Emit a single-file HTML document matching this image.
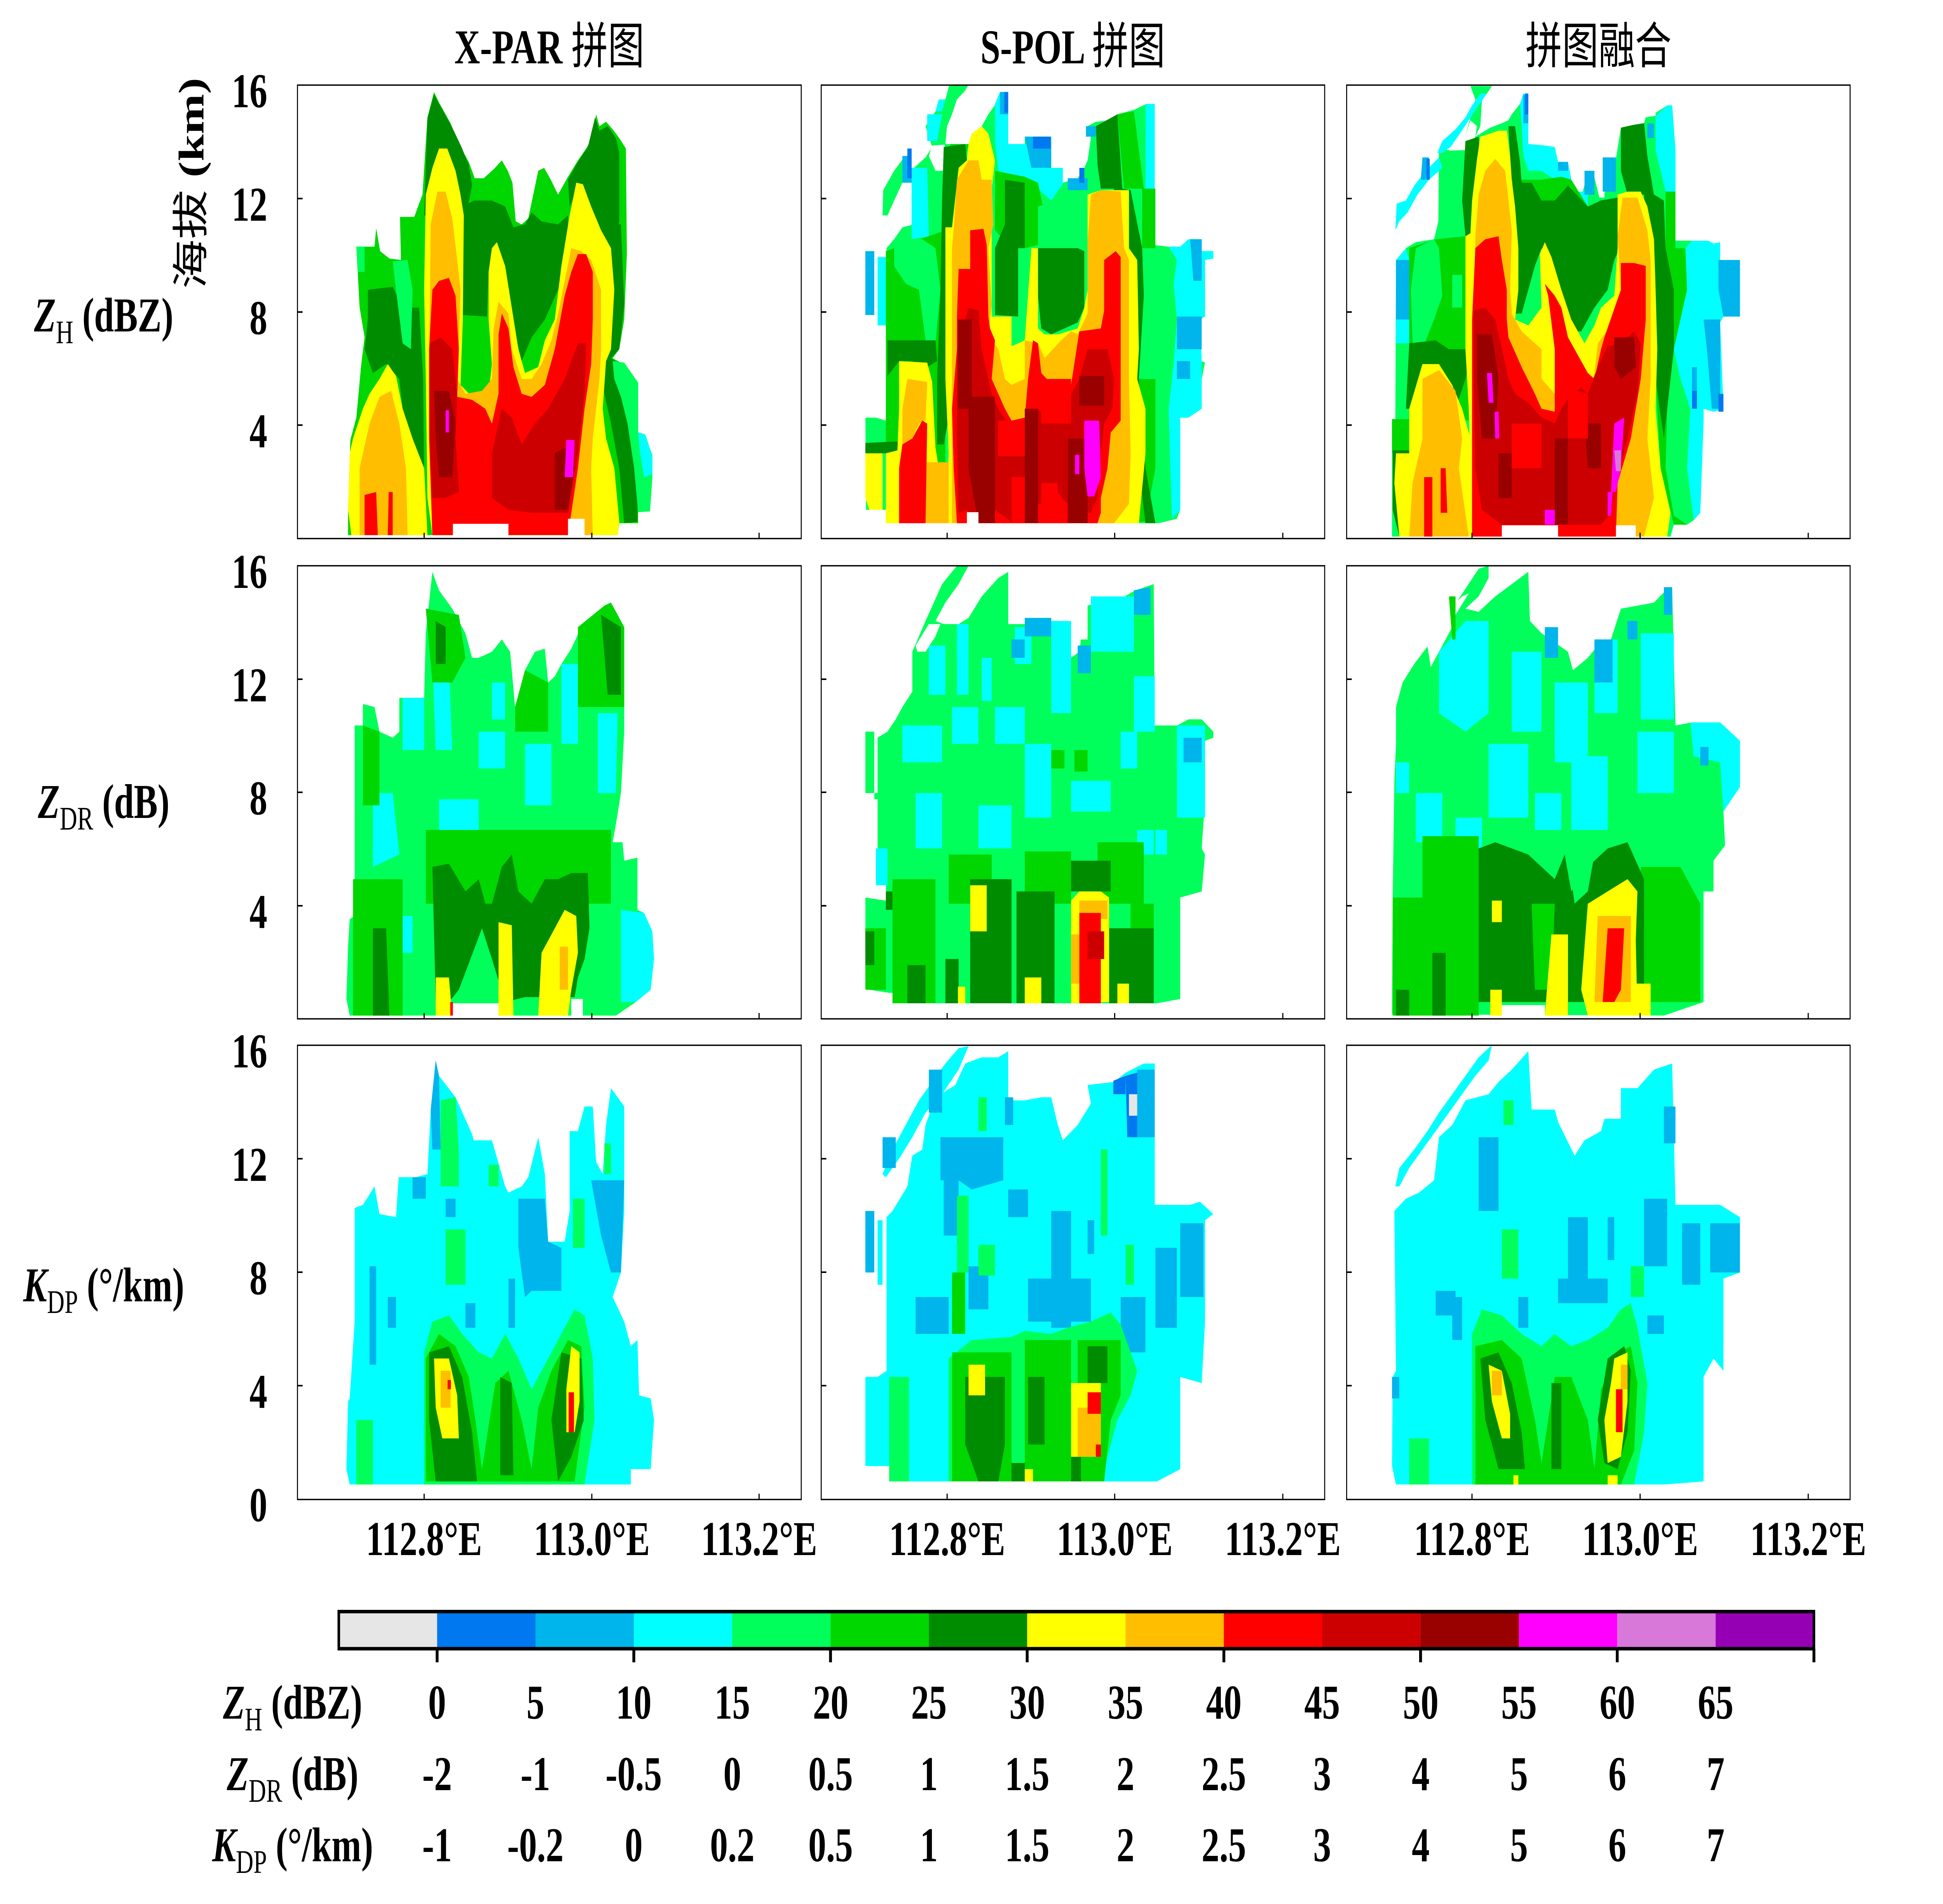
<!DOCTYPE html>
<html>
<head>
<meta charset="utf-8">
<style>
html,body{margin:0;padding:0;background:#fff;width:100%;height:100%;overflow:hidden;}
svg.root{display:block;width:100vw;height:100vh;}
.g0{fill:#e6e6e6}.b1{fill:#0078f0}.b2{fill:#00b4ec}.cy{fill:#00ffff}.sg{fill:#00ff5a}
.gr{fill:#00d600}.dg{fill:#008c00}.ye{fill:#ffff00}.or{fill:#ffbe00}.re{fill:#ff0000}
.r2{fill:#cc0000}.r3{fill:#990000}.mg{fill:#ff00ff}.oc{fill:#d878d8}.pu{fill:#9600b4}.wh{fill:#ffffff}
text{font-family:"Liberation Serif","Noto Serif CJK SC",serif;font-weight:bold;fill:#000;}
.cjk{font-family:"Liberation Sans","Noto Sans CJK SC",sans-serif;font-weight:normal;}
</style>
</head>
<body>
<svg class="root" xmlns="http://www.w3.org/2000/svg" width="100%" height="100%" viewBox="0 0 6819 4900" preserveAspectRatio="none">
<rect x="0" y="0" width="6819" height="4900" fill="#fff"/>

<!-- ================= ROW 1 COL 1 (ZH X-PAR) ================= -->
<svg x="1030" y="210" width="1820" height="1200" viewBox="0 0 1568 1568" preserveAspectRatio="none">
<polygon class="gr" points="165,1525 165,1440 172,1205 190,1130 205,950 215,860 200,760 190,555 245,555 250,493 262,570 290,595 325,600 322,455 365,455 390,380 405,120 425,35 440,70 475,140 500,210 530,270 548,325 575,325 605,295 630,265 648,300 662,340 672,470 690,480 710,460 740,300 758,290 778,330 800,380 830,320 860,265 885,225 905,185 915,110 925,150 945,135 965,160 985,190 1005,225 1008,580 1000,800 985,900 965,930 990,945 995,1010 1042,1012 1042,1180 1060,1185 1085,1255 1085,1330 1078,1445 1042,1448 1042,1485 985,1485 980,1525"/>
<polygon class="dg" points="395,450 405,125 425,42 445,85 478,150 508,220 530,280 540,350 522,450"/>
<polygon class="dg" points="512,420 545,400 600,400 640,420 665,490 700,480 720,440 750,470 800,480 830,450 830,560 800,700 760,800 720,860 690,940 660,800 640,720 620,650 600,560 590,640 585,790 512,785"/>
<polygon class="dg" points="830,330 860,270 890,220 912,120 925,165 950,150 975,190 985,240 985,470 965,560 940,520 900,440 860,360 835,420"/>
<polygon class="dg" points="935,480 990,480 1000,750 985,900 960,930 985,950 990,1010 1000,1100 1040,1200 1040,1480 1000,1485 985,1300 960,1150 930,1000 930,700"/>
<polygon class="dg" points="225,700 300,690 330,760 380,760 392,1000 395,1330 370,1320 340,1200 320,1000 280,950 240,980 215,900 225,800"/>
<polygon class="sg" points="965,940 1000,945 1042,1012 1042,1180 1065,1190 1085,1260 1085,1330 1078,1445 1042,1448 1030,1300 1010,1150 990,1060 970,1000"/>
<polygon class="sg" points="300,605 345,600 360,700 355,900 330,880 310,700"/>
<polygon class="sg" points="190,555 215,555 215,640 195,640"/>
<polygon class="cy" points="1042,1180 1062,1186 1085,1258 1085,1320 1060,1330 1048,1250"/>
<polygon class="ye" points="400,380 420,290 440,225 465,225 490,300 505,380 515,450 512,800 505,1020 540,1060 590,1050 600,950 590,800 590,640 600,560 615,540 640,620 660,760 680,900 700,980 740,960 760,870 790,800 810,620 835,450 855,340 875,345 900,420 930,500 960,560 970,700 960,900 945,940 935,1100 945,1200 970,1300 985,1480 980,1525 420,1525 405,1400 400,1000 395,700"/>
<polygon class="ye" points="170,1250 180,1200 210,1100 230,1050 260,1000 285,950 310,990 330,1100 360,1200 395,1300 405,1525 175,1525 165,1440"/>
<polygon class="or" points="415,480 435,370 460,370 480,460 495,600 505,700 500,900 495,1000 520,1050 570,1040 600,1000 605,830 620,740 650,780 660,900 690,1000 720,1000 750,950 780,870 800,780 840,560 870,570 900,600 930,700 930,900 925,1000 905,1200 900,1300 905,1525 420,1525 410,1000"/>
<polygon class="or" points="200,1300 230,1150 260,1060 295,1040 320,1150 340,1300 345,1525 200,1525"/>
<polygon class="re" points="410,900 420,700 440,670 470,660 490,720 500,900 495,1060 540,1070 580,1100 600,1150 620,1050 620,850 630,780 650,830 665,960 690,1050 720,1060 760,1020 790,900 820,720 840,640 860,580 885,580 905,640 905,800 900,950 880,1100 860,1300 830,1525 420,1525 410,1200"/>
<polygon class="re" points="215,1390 250,1380 255,1525 215,1525"/>
<polygon class="re" points="288,1380 300,1380 300,1525 285,1525"/>
<polygon class="r2" points="412,880 445,860 480,900 495,1050 490,1200 500,1380 460,1400 420,1400 412,1200"/>
<polygon class="r2" points="600,1250 630,1100 660,1130 690,1220 730,1150 770,1100 820,1000 860,880 885,880 880,1050 860,1250 840,1380 830,1450 720,1450 650,1440 600,1400"/>
<polygon class="r3" points="425,1040 470,1040 490,1150 480,1330 440,1330 430,1200"/>
<polygon class="r3" points="790,1250 840,1220 850,1300 830,1440 790,1440"/>
<polygon class="mg" points="825,1205 850,1205 845,1330 820,1330"/>
<polygon class="mg" points="460,1105 470,1105 470,1180 460,1180"/>
<polygon class="wh" points="482,1487 650,1487 650,1530 482,1530"/>
<polygon class="wh" points="830,1470 880,1470 880,1530 830,1530"/>
</svg>

<!-- ================= ROW 1 COL 2 (ZH S-POL) ================= -->
<svg x="2900" y="210" width="1820" height="1200" viewBox="0 0 1568 1568" preserveAspectRatio="none">
<polygon class="sg" points="182,560 205,530 230,490 265,480 265,290 300,255 320,220 300,150 330,100 360,60 372,10 430,10 420,30 395,60 380,110 365,150 360,210 430,210 440,175 470,150 490,110 515,70 525,35 550,35 550,210 600,210 600,185 680,185 680,290 715,290 715,340 760,325 780,290 790,265 800,190 790,150 815,135 865,130 880,110 930,95 968,75 993,75 993,550 1035,555 1070,555 1095,530 1135,530 1135,570 1170,570 1170,595 1145,600 1145,790 1130,800 1135,940 1145,945 1135,1000 1135,1100 1095,1130 1070,1130 1070,1440 1060,1470 1005,1485 180,1485 180,1440 120,1440 118,1130 150,1130 180,1140 182,1000"/>
<polygon class="sg" points="170,450 172,365 205,300 235,255 250,290 230,340 205,400 185,450"/>
<polygon class="wh" points="320,215 358,212 355,300 330,300 310,250"/>
<polygon class="b2" points="118,570 145,570 145,785 118,785"/>
<polygon class="cy" points="155,590 182,590 182,820 155,820"/>
<polygon class="cy" points="510,75 525,35 550,35 550,210 605,210 605,185 680,185 680,290 715,290 715,345 680,400 640,360 600,320 550,310 520,300 510,200"/>
<polygon class="cy" points="965,75 993,75 993,360 965,360"/>
<polygon class="cy" points="1035,555 1070,555 1095,530 1135,530 1135,570 1170,570 1170,595 1145,600 1145,790 1130,800 1135,940 1135,1100 1095,1130 1070,1130 1070,1440 1045,1470 1040,1300 1035,1100 1050,950 1060,800 1050,680 1060,600"/>
<polygon class="cy" points="258,290 305,290 310,520 258,530"/>
<polygon class="cy" points="305,110 350,110 335,200 305,200"/>
<polygon class="cy" points="340,60 360,60 350,100 330,100"/>
<polygon class="b2" points="1060,790 1135,790 1135,900 1060,900"/>
<polygon class="b2" points="1100,530 1135,530 1135,670 1110,670"/>
<polygon class="b2" points="600,185 680,185 680,290 620,290"/>
<polygon class="b2" points="730,325 790,325 790,365 730,365"/>
<polygon class="b2" points="230,250 258,250 258,340 230,340"/>
<polygon class="b2" points="525,35 550,35 550,110 525,110"/>
<polygon class="b2" points="785,150 815,150 815,185 785,185"/>
<polygon class="b2" points="1060,940 1100,940 1100,1000 1060,1000"/>
<polygon class="b1" points="625,185 678,185 678,225 625,225"/>
<polygon class="b1" points="765,290 780,290 780,340 765,340"/>
<polygon class="b1" points="538,35 550,35 550,105 538,105"/>
<polygon class="b1" points="245,225 258,225 258,325 245,325"/>
<polygon class="gr" points="180,570 360,500 360,1450 180,1450"/>
<polygon class="gr" points="510,300 600,320 640,340 660,450 640,550 600,560 560,560 510,500"/>
<polygon class="gr" points="955,360 995,360 995,560 955,560"/>
<polygon class="gr" points="375,210 430,210 420,260 400,290 380,330 365,300"/>
<polygon class="gr" points="880,110 930,100 960,360 900,360"/>
<polygon class="gr" points="930,1000 995,1000 995,1300 965,1480 945,1480"/>
<polygon class="sg" points="205,530 290,530 330,560 345,700 330,880 300,870 280,700 240,680 205,620"/>
<polygon class="sg" points="640,420 700,400 760,400 760,550 640,550"/>
<polygon class="dg" points="185,870 330,870 335,940 305,960 260,940 220,940 185,990"/>
<polygon class="dg" points="355,220 420,210 425,265 400,290 395,490 380,700 375,1000 370,1130 355,1220 335,1220 335,1000 345,700 350,400"/>
<polygon class="dg" points="540,330 600,340 600,560 580,560 580,790 510,785 510,560 540,480"/>
<polygon class="dg" points="640,560 700,560 760,560 780,570 780,760 760,810 720,830 680,850 650,830 640,720"/>
<polygon class="dg" points="815,150 880,110 895,360 920,365 955,560 960,720 945,1000 965,1300 995,1485 965,1485 935,1200 915,1000 900,720 870,360 830,360 820,280"/>
<polygon class="dg" points="118,1215 215,1210 220,1250 118,1250"/>
<polygon class="ye" points="360,490 380,490 400,290 425,265 430,210 440,175 470,150 490,175 510,265 500,360 500,790 560,790 560,890 600,870 620,560 640,560 640,830 660,850 700,850 760,830 780,760 790,700 790,380 830,365 915,365 915,560 940,600 945,900 940,1000 965,1100 965,1250 945,1485 360,1485 370,1250 360,1000 360,790"/>
<polygon class="ye" points="220,940 305,945 320,1010 330,1230 340,1300 355,1440 360,1485 180,1485 180,1250 215,1240 220,1100"/>
<polygon class="ye" points="118,1250 170,1250 170,1440 130,1440 118,1400"/>
<polygon class="or" points="380,560 385,500 395,330 430,265 460,265 470,330 500,330 505,480 490,560 500,750 490,850 520,900 540,1000 560,1020 600,1000 600,870 640,880 660,930 710,870 740,840 760,850 790,780 790,620 790,540 800,380 830,365 890,370 900,560 915,600 915,1000 920,1250 915,1420 870,1485 380,1485"/>
<polygon class="or" points="245,1000 305,1010 300,1140 280,1150 260,1200 230,1220 230,1100"/>
<polygon class="or" points="295,1280 370,1280 370,1485 295,1485"/>
<polygon class="re" points="395,790 400,630 435,630 435,500 475,495 485,550 490,790 495,830 510,870 500,1000 540,1100 560,1140 600,1130 610,1000 625,870 640,880 650,980 700,1040 740,1020 765,840 830,830 840,770 840,600 875,570 890,590 890,1140 860,1180 850,1300 830,1400 830,1450 820,1485 395,1485 385,1300 380,1100 395,900"/>
<polygon class="re" points="230,1220 260,1200 290,1140 305,1150 300,1485 220,1485 220,1300"/>
<polygon class="r2" points="395,900 430,760 460,770 470,900 500,1050 520,1100 550,1150 580,1160 600,1150 625,1100 640,1100 660,1130 700,1150 740,1050 765,1000 790,900 850,900 870,1000 865,1100 840,1150 830,1250 820,1400 800,1450 760,1450 720,1410 700,1380 680,1420 640,1420 600,1485 560,1480 510,1440 460,1485 425,1440 400,1450 395,1200"/>
<polygon class="r3" points="398,800 440,800 440,1100 398,1100"/>
<polygon class="r3" points="430,1060 510,1060 510,1485 460,1485 430,1300"/>
<polygon class="r3" points="600,1100 640,1100 640,1485 600,1485"/>
<polygon class="r3" points="765,990 840,990 840,1090 765,1090"/>
<polygon class="r3" points="730,1200 790,1200 790,1485 730,1485"/>
<polygon class="re" points="520,1140 600,1140 600,1260 520,1260"/>
<polygon class="re" points="650,1000 740,1000 740,1150 650,1150"/>
<polygon class="re" points="650,1350 700,1350 700,1485 650,1485"/>
<polygon class="re" points="560,1330 600,1330 600,1485 560,1485"/>
<polygon class="mg" points="780,1140 825,1140 830,1330 810,1395 790,1395 780,1300"/>
<polygon class="mg" points="752,1255 765,1255 765,1320 752,1320"/>
<polygon class="wh" points="425,1448 460,1448 460,1490 425,1490"/>
</svg>

<!-- ================= ROW 1 COL 3 (ZH fusion) ================= -->
<svg x="4760" y="210" width="1820" height="1200" viewBox="0 0 1568 1568" preserveAspectRatio="none">
<polygon class="sg" points="108,1530 108,1135 118,1135 120,600 150,560 180,540 235,530 248,470 250,230 285,230 300,200 330,180 345,120 360,60 345,15 410,15 395,40 380,60 375,150 360,185 405,155 440,140 460,130 470,110 495,75 505,40 520,45 520,210 570,215 600,220 610,270 640,270 650,330 655,370 685,370 700,300 715,300 735,390 750,390 755,260 785,260 800,155 840,145 870,140 875,120 905,115 905,105 940,80 955,80 965,230 965,535 1015,535 1065,535 1080,545 1100,540 1100,600 1160,600 1160,790 1110,790 1100,810 1110,1100 1080,1110 1050,1100 1050,1140 1040,1450 1020,1475 1000,1490 960,1490 950,1530"/>
<polygon class="cy" points="118,500 122,410 150,400 175,350 210,300 250,255 260,290 220,330 185,380 155,440 130,470"/>
<polygon class="cy" points="245,240 260,200 300,160 330,120 350,80 375,40 395,40 370,80 340,130 310,180 285,220 260,240"/>
<polygon class="wh" points="160,540 165,470 200,420 240,380 245,460 235,530 180,540"/>
<polygon class="wh" points="280,232 300,200 330,180 345,130 365,150 360,185 340,230"/>
<polygon class="cy" points="495,75 505,40 520,45 520,210 570,215 600,220 610,270 640,270 650,330 600,330 560,300 520,300 505,250 500,150"/>
<polygon class="cy" points="905,115 940,80 955,80 965,230 965,370 935,370 905,230"/>
<polygon class="cy" points="995,560 1015,535 1065,535 1080,545 1100,540 1100,600 1160,600 1160,790 1110,790 1100,810 1110,1100 1080,1110 1050,1100 1050,1140 1040,1450 1020,1475 1000,1300 1010,1100 980,1000 960,900 950,800 980,700 990,600"/>
<polygon class="cy" points="120,600 150,560 160,600 160,880 120,880"/>
<polygon class="cy" points="650,370 700,370 700,420 650,420"/>
<polygon class="b2" points="1095,600 1160,600 1160,790 1110,790 1095,700"/>
<polygon class="b2" points="1050,800 1100,800 1100,1100 1075,1100 1060,900"/>
<polygon class="b2" points="745,255 785,255 785,370 745,370"/>
<polygon class="b2" points="610,270 640,270 640,300 610,300"/>
<polygon class="b2" points="690,300 720,300 720,380 690,380"/>
<polygon class="b2" points="880,140 900,140 900,190 880,190"/>
<polygon class="b2" points="505,45 520,45 520,140 505,140"/>
<polygon class="b2" points="120,600 160,600 160,800 120,800"/>
<polygon class="b2" points="200,255 220,255 210,330 195,330"/>
<polygon class="b2" points="1015,960 1030,960 1030,1060 1015,1060"/>
<polygon class="b1" points="1095,1050 1110,1050 1110,1110 1095,1110"/>
<polygon class="b1" points="1015,1040 1030,1040 1030,1100 1015,1100"/>
<polygon class="b1" points="510,40 520,40 520,110 510,110"/>
<polygon class="b1" points="212,260 222,260 222,330 212,330"/>
<polygon class="gr" points="160,560 240,530 330,520 340,1140 300,1130 250,1100 200,1070 160,1100"/>
<polygon class="gr" points="108,1135 160,1135 160,1250 108,1250"/>
<polygon class="gr" points="470,330 560,330 620,320 650,330 700,420 720,420 735,400 790,390 790,540 740,560 700,560 660,520 620,520 560,540 520,520 490,480"/>
<polygon class="gr" points="935,370 965,370 965,560 995,560 1000,700 960,900 940,1100 935,1300 960,1460 1000,1490 960,1490 920,1300 905,1000 930,800 935,600"/>
<polygon class="sg" points="180,560 235,530 250,560 260,720 235,800 200,900 170,880 165,700"/>
<polygon class="sg" points="290,650 320,650 320,760 290,760"/>
<polygon class="dg" points="330,200 370,185 375,280 355,380 350,480 345,520 330,520 320,400"/>
<polygon class="dg" points="460,150 480,150 495,270 500,340 480,360 470,330 465,250"/>
<polygon class="dg" points="470,340 530,340 560,400 600,400 640,350 700,420 740,400 790,390 800,400 800,550 780,600 760,700 720,760 680,840 640,840 620,760 600,700 580,640 560,560 540,620 520,700 500,780 480,780 470,600"/>
<polygon class="dg" points="800,155 840,145 870,140 880,250 900,380 930,400 935,560 960,700 960,900 940,1100 930,1200 905,1000 895,800 880,640 870,380 820,380 800,300"/>
<polygon class="dg" points="160,880 240,870 280,900 330,900 340,950 330,1000 300,1100 250,1000 210,960 165,1100 150,1100"/>
<polygon class="dg" points="110,1240 160,1240 160,1530 130,1530 110,1440"/>
<polygon class="ye" points="330,520 345,510 350,400 365,260 375,185 390,180 430,165 455,165 465,250 470,330 480,420 490,560 490,700 480,800 520,820 560,760 555,580 570,540 590,590 620,700 650,800 690,880 720,820 740,760 780,720 790,560 790,380 820,370 860,370 880,420 900,530 905,700 910,900 905,1100 920,1300 950,1450 940,1530 340,1530 345,1300 340,1100 330,900"/>
<polygon class="ye" points="160,1100 200,950 250,950 290,1020 320,1100 345,1200 345,1530 130,1530 115,1350 120,1250 160,1250"/>
<polygon class="or" points="360,520 370,380 390,300 420,260 450,300 460,400 470,500 465,700 470,780 500,840 540,880 560,900 560,1000 600,1050 620,940 640,900 680,980 700,1050 720,980 730,880 770,820 800,700 790,520 805,390 850,390 880,500 890,600 890,800 890,1000 880,1200 900,1400 870,1530 350,1530"/>
<polygon class="or" points="200,1000 250,970 300,1040 320,1200 310,1300 340,1530 160,1530 170,1350 200,1200"/>
<polygon class="re" points="360,560 390,530 430,520 440,600 455,700 455,800 460,860 500,960 540,1050 560,1100 600,1110 600,900 580,720 570,680 600,720 620,760 640,860 660,900 700,980 720,1000 740,900 750,860 800,700 800,610 840,610 875,620 875,800 860,1000 830,1200 790,1350 785,1530 350,1530 350,800"/>
<polygon class="re" points="205,1330 230,1330 230,1530 205,1530"/>
<polygon class="re" points="255,1300 270,1300 275,1450 255,1450"/>
<polygon class="r2" points="355,770 390,760 420,800 440,900 460,1000 480,1050 520,1080 560,1130 600,1150 620,1100 650,1050 680,1030 700,1050 730,960 760,890 800,880 840,840 860,880 850,1050 820,1200 790,1320 770,1450 740,1490 600,1490 440,1490 380,1440 360,1300 355,1000"/>
<polygon class="r3" points="365,850 410,850 430,1000 420,1200 380,1200 365,1000"/>
<polygon class="r3" points="780,860 840,860 845,960 800,1000 780,960"/>
<polygon class="r3" points="690,1150 740,1150 740,1300 700,1300"/>
<polygon class="r3" points="600,1200 640,1200 640,1490 600,1490"/>
<polygon class="r3" points="430,1250 470,1250 470,1400 430,1400"/>
<polygon class="re" points="470,1150 560,1150 560,1300 470,1300"/>
<polygon class="re" points="640,1030 700,1050 700,1200 640,1200"/>
<polygon class="mg" points="395,980 410,980 415,1080 400,1080"/>
<polygon class="mg" points="418,1110 430,1110 432,1200 420,1200"/>
<polygon class="mg" points="780,1150 810,1130 800,1300 785,1380 770,1380"/>
<polygon class="mg" points="760,1380 775,1380 770,1460 760,1460"/>
<polygon class="mg" points="570,1440 600,1440 600,1490 570,1490"/>
<polygon class="oc" points="780,1240 800,1240 800,1310 785,1310"/>
<polygon class="wh" points="440,1492 610,1492 610,1532 440,1532"/>
<polygon class="wh" points="785,1492 845,1492 845,1532 785,1532"/>
</svg>

<!-- ================= ROWS 2-3 COL 1 ================= -->
<svg x="1030" y="1440" width="1820" height="2480" viewBox="0 0 1568 1568" preserveAspectRatio="none">
<!-- ZDR -->
<polygon class="sg" points="160,715 165,630 170,585 185,580 185,270 210,270 210,235 245,240 260,280 300,290 320,280 320,225 395,225 400,120 420,20 440,50 480,80 520,120 540,160 560,160 600,150 630,130 655,150 670,240 700,180 730,150 760,145 770,200 790,190 810,170 840,145 870,110 900,95 920,90 940,75 960,70 1000,110 1000,280 990,380 975,430 965,460 995,460 1000,490 1040,485 1040,570 1060,575 1085,605 1090,650 1080,700 1035,720 975,742 170,742"/>
<polygon class="cy" points="420,160 470,170 480,310 430,310"/>
<polygon class="cy" points="330,225 395,225 395,310 330,310"/>
<polygon class="cy" points="440,390 560,390 560,470 440,470"/>
<polygon class="cy" points="700,300 780,300 780,400 700,400"/>
<polygon class="cy" points="330,580 360,580 360,640 330,640"/>
<polygon class="cy" points="990,570 1060,575 1085,605 1090,650 1080,700 1035,720 990,720"/>
<polygon class="cy" points="240,380 300,380 320,480 240,500"/>
<polygon class="cy" points="810,170 860,170 860,300 810,300"/>
<polygon class="cy" points="560,280 640,280 640,340 560,340"/>
<polygon class="cy" points="920,250 980,250 975,380 920,380"/>
<polygon class="cy" points="600,200 640,200 640,260 600,260"/>
<polygon class="gr" points="860,110 940,75 960,70 1000,110 1000,240 860,240"/>
<polygon class="gr" points="400,80 500,90 520,160 480,200 420,200"/>
<polygon class="gr" points="670,240 700,180 770,200 770,280 670,280"/>
<polygon class="gr" points="400,440 960,440 960,560 400,560"/>
<polygon class="gr" points="180,520 330,520 330,742 180,742"/>
<polygon class="gr" points="210,270 260,280 260,400 210,400"/>
<polygon class="dg" points="420,500 470,495 520,540 560,520 580,560 600,560 630,500 660,480 680,540 720,560 760,520 800,520 840,510 890,510 895,600 880,650 860,680 850,712 700,712 640,720 600,650 570,600 500,700 470,720 430,720"/>
<polygon class="dg" points="930,90 990,110 990,220 950,220"/>
<polygon class="dg" points="430,100 460,110 460,170 430,170"/>
<polygon class="dg" points="240,600 280,600 290,742 240,742"/>
<polygon class="ye" points="620,590 660,595 665,742 620,742"/>
<polygon class="ye" points="750,640 780,610 820,570 855,580 860,640 840,700 830,742 740,742"/>
<polygon class="ye" points="430,680 470,680 480,742 430,742"/>
<polygon class="or" points="805,630 830,630 830,700 805,700"/>
<polygon class="re" points="474,720 482,720 482,742 474,742"/>
<polygon class="wh" points="482,722 620,722 620,746 482,746"/>
<polygon class="wh" points="840,715 875,715 875,746 840,746"/>
<!-- KDP -->
<polygon class="cy" points="160,1480 165,1370 170,1365 185,1240 185,1055 210,1050 245,1020 260,1065 310,1070 318,1005 370,1005 405,1000 415,895 430,815 440,840 490,875 540,935 545,945 600,945 640,1020 650,1030 690,1020 710,1005 740,940 760,1000 770,1110 820,1110 835,1060 835,930 860,930 880,890 905,890 915,980 935,1000 945,920 960,860 1000,890 1000,1060 990,1160 965,1200 1000,1240 1020,1280 1040,1270 1045,1360 1080,1365 1090,1400 1080,1480 1020,1480 1020,1505 170,1505"/>
<polygon class="b2" points="415,895 430,815 440,840 445,960 420,960"/>
<polygon class="b2" points="360,1005 400,1005 400,1040 360,1040"/>
<polygon class="b2" points="460,1040 490,1040 490,1070 460,1070"/>
<polygon class="b2" points="680,1040 760,1040 770,1110 810,1120 810,1190 720,1190 700,1200 680,1120"/>
<polygon class="b2" points="900,1010 1000,1010 990,1160 960,1160 930,1100"/>
<polygon class="b2" points="230,1150 250,1150 250,1310 230,1310"/>
<polygon class="b2" points="285,1200 310,1200 310,1250 285,1250"/>
<polygon class="b2" points="520,1210 550,1210 550,1250 520,1250"/>
<polygon class="b2" points="650,1170 670,1170 670,1250 650,1250"/>
<polygon class="sg" points="445,880 490,875 500,960 500,1020 445,1020"/>
<polygon class="sg" points="460,1090 520,1090 520,1180 460,1180"/>
<polygon class="sg" points="590,985 620,985 620,1020 590,1020"/>
<polygon class="sg" points="845,1040 880,1040 880,1120 845,1120"/>
<polygon class="sg" points="940,950 960,950 960,1000 940,1000"/>
<polygon class="sg" points="395,1290 420,1240 470,1230 510,1260 560,1290 600,1300 640,1260 680,1300 720,1350 760,1310 810,1260 850,1220 880,1230 905,1300 910,1400 880,1505 395,1505"/>
<polygon class="sg" points="190,1400 240,1400 240,1505 190,1505"/>
<polygon class="gr" points="400,1300 440,1260 490,1280 530,1330 550,1400 570,1480 610,1340 650,1320 690,1400 720,1480 740,1380 780,1320 830,1270 870,1280 880,1380 850,1500 400,1500"/>
<polygon class="dg" points="410,1290 470,1280 510,1330 540,1420 555,1500 430,1500 410,1400"/>
<polygon class="dg" points="625,1330 660,1340 665,1490 625,1490"/>
<polygon class="dg" points="810,1290 870,1300 878,1400 840,1460 800,1500 780,1400"/>
<polygon class="ye" points="425,1300 470,1300 495,1360 500,1430 450,1430 430,1380"/>
<polygon class="ye" points="840,1280 865,1290 865,1370 850,1420 825,1420 825,1350"/>
<polygon class="or" points="445,1320 475,1320 475,1380 445,1380"/>
<polygon class="re" points="466,1335 476,1335 476,1350 466,1350"/>
<polygon class="re" points="832,1355 848,1355 848,1420 832,1420"/>
</svg>

<!-- ================= ROWS 2-3 COL 2 ================= -->
<svg x="2900" y="1440" width="1820" height="2480" viewBox="0 0 1568 1568" preserveAspectRatio="none">
<!-- ZDR -->
<polygon class="sg" points="118,280 145,280 145,380 155,380 155,290 185,280 210,260 230,240 260,215 260,150 300,100 350,40 395,10 430,10 400,40 360,70 330,100 355,105 400,105 430,95 470,60 520,30 550,20 550,105 600,105 600,95 680,95 680,145 715,145 715,165 740,160 765,150 770,130 790,130 790,75 820,70 870,70 935,50 990,40 993,270 1060,270 1095,260 1135,260 1170,280 1170,290 1145,295 1145,390 1135,470 1145,480 1135,540 1070,550 1070,715 1000,722 245,722 245,705 190,705 130,700 118,640 118,550 180,555 182,470 155,480 155,390 145,390 145,380 118,380"/>
<polygon class="wh" points="270,140 310,105 345,105 330,125 300,150 275,150"/>
<polygon class="cy" points="230,270 350,270 350,330 230,330"/>
<polygon class="cy" points="310,140 360,140 360,220 310,220"/>
<polygon class="cy" points="380,240 460,240 460,300 380,300"/>
<polygon class="cy" points="510,240 600,240 600,300 510,300"/>
<polygon class="cy" points="570,110 620,110 620,170 570,170"/>
<polygon class="cy" points="600,300 680,300 680,420 600,420"/>
<polygon class="cy" points="680,100 740,100 740,250 680,250"/>
<polygon class="cy" points="740,360 860,360 860,410 740,410"/>
<polygon class="cy" points="800,60 930,60 930,150 800,150"/>
<polygon class="cy" points="930,190 993,190 993,280 930,280"/>
<polygon class="cy" points="890,280 940,280 940,340 890,340"/>
<polygon class="cy" points="1060,270 1145,270 1145,420 1060,420"/>
<polygon class="cy" points="270,380 350,380 350,470 270,470"/>
<polygon class="cy" points="460,400 560,400 560,470 460,470"/>
<polygon class="cy" points="395,105 430,105 430,220 395,220"/>
<polygon class="cy" points="470,160 500,160 500,230 470,230"/>
<polygon class="cy" points="940,440 990,440 990,480 940,480"/>
<polygon class="cy" points="995,440 1030,440 1030,480 995,480"/>
<polygon class="cy" points="150,470 185,470 185,530 150,530"/>
<polygon class="b2" points="600,95 680,95 680,125 600,125"/>
<polygon class="b2" points="560,130 600,130 600,160 560,160"/>
<polygon class="b2" points="760,140 800,140 800,185 760,185"/>
<polygon class="b2" points="1080,290 1135,290 1135,330 1080,330"/>
<polygon class="b2" points="930,50 980,45 980,90 930,90"/>
<polygon class="b2" points="140,620 155,620 155,665 140,665"/>
<polygon class="gr" points="370,480 500,480 500,560 370,560"/>
<polygon class="gr" points="600,475 740,475 740,560 600,560"/>
<polygon class="gr" points="820,460 960,460 960,560 820,560"/>
<polygon class="gr" points="200,520 330,520 330,722 200,722"/>
<polygon class="gr" points="920,560 990,560 990,700 920,700"/>
<polygon class="gr" points="118,600 180,600 180,700 118,700"/>
<polygon class="gr" points="680,310 720,310 720,340 680,340"/>
<polygon class="gr" points="750,310 790,310 790,345 750,345"/>
<polygon class="dg" points="435,520 560,520 560,722 435,722"/>
<polygon class="dg" points="575,540 690,540 690,722 575,722"/>
<polygon class="dg" points="740,490 860,490 860,540 740,540"/>
<polygon class="dg" points="855,600 990,600 990,722 855,722"/>
<polygon class="dg" points="245,660 300,660 300,722 245,722"/>
<polygon class="dg" points="360,650 400,650 400,722 360,722"/>
<polygon class="dg" points="180,540 200,540 200,570 180,570"/>
<polygon class="dg" points="118,605 145,605 145,660 118,660"/>
<polygon class="ye" points="435,530 485,530 485,605 435,605"/>
<polygon class="ye" points="740,555 765,540 830,540 855,550 855,720 740,722"/>
<polygon class="ye" points="600,680 650,680 650,722 600,722"/>
<polygon class="ye" points="398,695 420,695 420,722 398,722"/>
<polygon class="ye" points="880,690 915,690 915,722 880,722"/>
<polygon class="or" points="765,555 850,555 850,585 765,585"/>
<polygon class="or" points="740,610 790,610 790,690 740,690"/>
<polygon class="re" points="765,575 830,575 830,722 765,722"/>
<polygon class="r2" points="790,605 840,605 840,650 790,650"/>
<!-- KDP -->
<polygon class="cy" points="118,1475 118,1330 155,1330 182,1320 182,1070 200,1060 245,1020 260,970 290,960 300,920 320,890 345,870 390,855 420,820 470,810 520,810 550,800 550,880 600,880 650,875 680,875 700,920 715,945 760,920 800,885 790,855 870,850 905,835 960,820 993,820 993,1050 1100,1050 1130,1045 1170,1065 1145,1075 1145,1240 1135,1340 1070,1330 1070,1480 1000,1500 250,1500 250,1480 190,1475"/>
<polygon class="cy" points="170,1000 200,960 240,920 280,880 320,850 360,820 400,795 430,792 400,830 350,870 300,900 260,940 220,975 180,1005"/>
<polygon class="b2" points="118,1060 145,1060 145,1160 118,1160"/>
<polygon class="cy" points="155,1075 170,1075 170,1180 155,1180"/>
<polygon class="b2" points="345,940 535,940 535,1010 440,1025 400,1010 345,1010"/>
<polygon class="b2" points="355,1000 400,1000 400,1100 355,1100"/>
<polygon class="b2" points="550,1025 610,1025 610,1070 550,1070"/>
<polygon class="b2" points="680,1060 740,1060 740,1250 680,1250"/>
<polygon class="b2" points="610,1170 800,1170 800,1240 610,1240"/>
<polygon class="b2" points="270,1200 370,1200 370,1260 270,1260"/>
<polygon class="b2" points="430,1150 490,1150 490,1220 430,1220"/>
<polygon class="b2" points="790,1075 810,1075 810,1130 790,1130"/>
<polygon class="b2" points="890,1200 965,1200 965,1290 890,1290"/>
<polygon class="b2" points="995,1120 1060,1120 1060,1250 995,1250"/>
<polygon class="b2" points="1070,1080 1140,1080 1140,1200 1070,1200"/>
<polygon class="b2" points="940,830 993,830 993,940 940,940"/>
<polygon class="b2" points="310,830 350,830 350,900 310,900"/>
<polygon class="b2" points="170,940 210,940 210,990 170,990"/>
<polygon class="b2" points="540,875 565,875 565,920 540,920"/>
<polygon class="b1" points="868,848 905,840 905,870 868,870"/>
<polygon class="b1" points="905,840 940,835 940,940 910,940"/>
<polygon class="g0" points="915,870 940,870 940,905 915,905"/>
<polygon class="sg" points="395,1035 430,1035 430,1160 395,1160"/>
<polygon class="sg" points="460,1115 510,1115 510,1165 460,1165"/>
<polygon class="sg" points="905,1115 930,1115 930,1180 905,1180"/>
<polygon class="sg" points="830,960 850,960 850,1100 830,1100"/>
<polygon class="sg" points="460,875 485,875 485,930 460,930"/>
<polygon class="sg" points="370,1300 440,1270 560,1265 600,1255 680,1260 730,1250 800,1240 860,1225 890,1245 940,1320 920,1360 880,1400 860,1440 830,1500 370,1500"/>
<polygon class="sg" points="190,1330 250,1330 250,1500 190,1500"/>
<polygon class="gr" points="380,1290 560,1290 560,1500 380,1500"/>
<polygon class="gr" points="600,1270 740,1270 740,1500 600,1500"/>
<polygon class="gr" points="760,1270 890,1270 890,1360 860,1400 840,1500 760,1500"/>
<polygon class="gr" points="380,1160 420,1160 420,1260 380,1260"/>
<polygon class="dg" points="420,1330 540,1330 540,1440 520,1500 460,1500 420,1440"/>
<polygon class="dg" points="610,1330 660,1330 660,1440 610,1440"/>
<polygon class="dg" points="790,1280 850,1280 850,1340 790,1340"/>
<polygon class="dg" points="740,1430 770,1430 770,1500 740,1500"/>
<polygon class="dg" points="560,1470 600,1470 600,1500 560,1500"/>
<polygon class="ye" points="430,1310 480,1310 480,1360 430,1360"/>
<polygon class="ye" points="740,1340 830,1340 830,1460 740,1460"/>
<polygon class="ye" points="600,1480 625,1480 625,1500 600,1500"/>
<polygon class="or" points="760,1380 830,1380 830,1460 760,1460"/>
<polygon class="re" points="790,1355 830,1355 830,1390 790,1390"/>
<polygon class="re" points="815,1440 830,1440 830,1460 815,1460"/>
</svg>

<!-- ================= ROWS 2-3 COL 3 ================= -->
<svg x="4760" y="1440" width="1820" height="2480" viewBox="0 0 1568 1568" preserveAspectRatio="none">
<!-- ZDR -->
<polygon class="sg" points="108,740 110,550 115,360 120,300 150,270 175,260 210,240 235,225 250,150 300,100 290,80 370,15 400,10 400,30 370,60 330,80 370,85 420,60 470,40 520,20 525,100 560,120 600,135 640,150 655,180 700,160 730,140 770,130 800,80 900,70 945,45 955,45 965,270 1015,265 1100,265 1160,295 1160,370 1110,410 1115,465 1080,490 1080,540 1050,540 1050,720 930,742"/>
<polygon class="sg" points="120,240 140,200 175,170 210,145 245,125 250,150 235,225 210,240 175,260 150,270 120,300"/>
<polygon class="wh" points="225,175 250,150 255,95 240,100 215,140"/>
<polygon class="wh" points="290,75 320,60 340,55 300,90"/>
<polygon class="cy" points="250,150 330,100 400,100 400,250 330,280 250,250"/>
<polygon class="cy" points="470,150 560,150 560,280 470,280"/>
<polygon class="cy" points="600,200 700,200 700,330 600,330"/>
<polygon class="cy" points="720,130 790,130 790,250 720,250"/>
<polygon class="cy" points="860,120 960,120 960,260 860,260"/>
<polygon class="cy" points="400,300 520,300 520,420 400,420"/>
<polygon class="cy" points="650,320 760,320 760,440 650,440"/>
<polygon class="cy" points="850,280 960,280 960,380 850,380"/>
<polygon class="cy" points="180,380 260,380 260,460 180,460"/>
<polygon class="cy" points="1010,265 1100,265 1160,295 1160,370 1110,410 1100,330 1020,320"/>
<polygon class="cy" points="120,330 160,330 160,380 120,380"/>
<polygon class="cy" points="300,420 380,420 380,470 300,470"/>
<polygon class="cy" points="540,380 620,380 620,440 540,440"/>
<polygon class="b2" points="1040,305 1065,305 1065,335 1040,335"/>
<polygon class="b2" points="570,110 610,110 610,160 570,160"/>
<polygon class="b2" points="720,130 775,130 775,200 720,200"/>
<polygon class="b2" points="930,45 955,45 955,90 930,90"/>
<polygon class="b2" points="820,100 850,100 850,130 820,130"/>
<polygon class="gr" points="200,450 370,450 370,742 200,742"/>
<polygon class="gr" points="860,500 980,500 1040,560 1040,720 860,720"/>
<polygon class="gr" points="110,550 200,550 200,742 110,742"/>
<polygon class="gr" points="280,60 300,60 300,130 290,130"/>
<polygon class="dg" points="370,470 420,460 520,480 600,520 630,480 650,540 700,500 760,470 820,460 870,520 870,720 370,720"/>
<polygon class="dg" points="120,700 160,700 160,742 120,742"/>
<polygon class="dg" points="230,640 270,640 270,742 230,742"/>
<polygon class="gr" points="530,560 600,560 590,700 540,700"/>
<polygon class="sg" points="640,480 720,480 700,540 660,560"/>
<polygon class="ye" points="700,560 760,540 820,520 850,540 845,620 850,742 700,742 680,700"/>
<polygon class="ye" points="410,555 440,555 440,590 410,590"/>
<polygon class="ye" points="590,610 640,610 640,742 570,742"/>
<polygon class="ye" points="405,700 440,700 440,742 405,742"/>
<polygon class="ye" points="840,690 890,690 890,742 840,742"/>
<polygon class="or" points="730,580 830,580 830,720 720,720"/>
<polygon class="re" points="760,600 810,600 800,700 780,720 745,720"/>
<polygon class="wh" points="440,725 570,725 570,746 440,746"/>
<!-- KDP -->
<polygon class="cy" points="108,1475 110,1330 120,1320 115,1060 150,1040 190,1030 235,1010 250,940 290,920 330,880 400,870 430,850 470,830 520,800 530,895 560,895 600,895 610,915 660,970 690,945 740,930 750,910 800,910 800,860 850,860 900,830 955,820 965,1050 1100,1050 1160,1070 1160,1160 1110,1170 1110,1320 1080,1300 1050,1330 1050,1500 930,1505 120,1505"/>
<polygon class="cy" points="118,1020 130,990 175,960 215,930 250,900 290,870 330,840 370,810 410,790 400,815 360,840 320,870 280,900 240,930 200,960 160,990 130,1020"/>
<polygon class="b2" points="370,940 430,940 430,1060 370,1060"/>
<polygon class="b2" points="640,1070 700,1070 700,1200 640,1200"/>
<polygon class="b2" points="610,1170 760,1170 760,1210 610,1210"/>
<polygon class="b2" points="870,1040 940,1040 940,1150 870,1150"/>
<polygon class="b2" points="985,1080 1040,1080 1040,1180 985,1180"/>
<polygon class="b2" points="1070,1080 1160,1080 1160,1160 1070,1160"/>
<polygon class="b2" points="290,1200 320,1200 320,1270 290,1270"/>
<polygon class="b2" points="490,1200 520,1200 520,1250 490,1250"/>
<polygon class="b2" points="930,890 965,890 965,950 930,950"/>
<polygon class="b2" points="108,1330 130,1330 130,1365 108,1365"/>
<polygon class="b2" points="240,1190 300,1190 300,1230 240,1230"/>
<polygon class="b2" points="880,1230 930,1230 930,1260 880,1260"/>
<polygon class="b2" points="760,1070 780,1070 780,1140 760,1140"/>
<polygon class="sg" points="440,1090 490,1090 490,1170 440,1170"/>
<polygon class="sg" points="830,1150 870,1150 870,1200 830,1200"/>
<polygon class="sg" points="445,880 475,880 475,920 445,920"/>
<polygon class="sg" points="160,1430 220,1430 220,1505 160,1505"/>
<polygon class="sg" points="350,1260 380,1220 440,1230 500,1260 560,1280 600,1260 650,1280 700,1270 760,1250 800,1220 830,1210 850,1250 880,1340 870,1420 840,1505 350,1505"/>
<polygon class="gr" points="360,1280 440,1270 500,1300 540,1400 560,1470 600,1330 650,1330 700,1400 720,1480 740,1350 790,1290 830,1280 850,1340 840,1450 800,1505 360,1505"/>
<polygon class="dg" points="375,1300 430,1290 470,1340 500,1420 510,1480 430,1480 390,1400"/>
<polygon class="dg" points="590,1340 620,1340 620,1480 590,1480"/>
<polygon class="dg" points="760,1300 810,1280 830,1320 820,1420 790,1480 750,1470 730,1400"/>
<polygon class="ye" points="400,1310 440,1320 465,1390 465,1430 440,1430 410,1370"/>
<polygon class="ye" points="780,1300 820,1290 820,1370 800,1460 760,1470 750,1400 770,1340"/>
<polygon class="ye" points="475,1490 490,1490 490,1505 475,1505"/>
<polygon class="ye" points="760,1490 790,1490 790,1505 760,1505"/>
<polygon class="or" points="410,1320 440,1320 440,1360 410,1360"/>
<polygon class="or" points="800,1310 820,1310 820,1350 800,1350"/>
<polygon class="re" points="785,1350 805,1350 805,1420 785,1420"/>
</svg>

<!-- ================= PANEL FRAMES & TICKS ================= -->
<g fill="none" stroke="#000" stroke-width="3.5">
<rect x="1044" y="219" width="1768" height="1167"/>
<rect x="2882" y="219" width="1767" height="1167"/>
<rect x="4726" y="219" width="1767" height="1167"/>
<rect x="1044" y="1456" width="1768" height="1166"/>
<rect x="2882" y="1456" width="1767" height="1166"/>
<rect x="4726" y="1456" width="1767" height="1166"/>
<rect x="1044" y="2690" width="1768" height="1169"/>
<rect x="2882" y="2690" width="1767" height="1169"/>
<rect x="4726" y="2690" width="1767" height="1169"/>
</g>
<g stroke="#000" stroke-width="4">
<path d="M1044 511h18M1044 803h18M1044 1094h18 M2882 511h18M2882 803h18M2882 1094h18 M4726 511h18M4726 803h18M4726 1094h18"/>
<path d="M1044 1748h18M1044 2039h18M1044 2331h18 M2882 1748h18M2882 2039h18M2882 2331h18 M4726 1748h18M4726 2039h18M4726 2331h18"/>
<path d="M1044 2982h18M1044 3274h18M1044 3566h18 M2882 2982h18M2882 3274h18M2882 3566h18 M4726 2982h18M4726 3274h18M4726 3566h18"/>
<path d="M1488.5 1386v-15M2077 1386v-15M2664 1386v-15 M3324 1386v-15M3912 1386v-15M4502 1386v-15 M5166 1386v-15M5756 1386v-15M6346 1386v-15"/>
<path d="M1488.5 2622v-15M2077 2622v-15M2664 2622v-15 M3324 2622v-15M3912 2622v-15M4502 2622v-15 M5166 2622v-15M5756 2622v-15M6346 2622v-15"/>
<path d="M1488.5 3859v-15M2077 3859v-15M2664 3859v-15 M3324 3859v-15M3912 3859v-15M4502 3859v-15 M5166 3859v-15M5756 3859v-15M6346 3859v-15"/>
</g>

<!-- ================= TITLES ================= -->
<text x="1928" y="163" font-size="125" text-anchor="middle">X-PAR <tspan class="cjk" font-size="128">拼图</tspan></text>
<text x="3765" y="163" font-size="125" text-anchor="middle">S-POL <tspan class="cjk" font-size="128">拼图</tspan></text>
<text x="5610" y="163" font-size="128" text-anchor="middle" class="cjk">拼图融合</text>

<text transform="translate(714,472) rotate(-90)" font-size="125" text-anchor="middle"><tspan class="cjk" font-size="128">海拔</tspan> (km)</text>

<text x="364" y="853" font-size="125" text-anchor="middle"><tspan font-style="italic">Z</tspan><tspan font-size="85" font-weight="normal" dy="30">H</tspan><tspan dy="-30"> (dBZ)</tspan></text>
<text x="364" y="2105" font-size="125" text-anchor="middle"><tspan font-style="italic">Z</tspan><tspan font-size="85" font-weight="normal" dy="30">DR</tspan><tspan dy="-30"> (dB)</tspan></text>
<text x="364" y="3349" font-size="125" text-anchor="middle"><tspan font-style="italic">K</tspan><tspan font-size="85" font-weight="normal" dy="30">DP</tspan><tspan dy="-30"> (°/km)</tspan></text>

<g font-size="125" text-anchor="end">
<text x="938" y="276">16</text><text x="938" y="568">12</text><text x="938" y="860">8</text><text x="938" y="1151">4</text>
<text x="938" y="1513">16</text><text x="938" y="1805">12</text><text x="938" y="2096">8</text><text x="938" y="2388">4</text>
<text x="938" y="2747">16</text><text x="938" y="3039">12</text><text x="938" y="3331">8</text><text x="938" y="3623">4</text><text x="938" y="3915">0</text>
</g>

<g font-size="125" text-anchor="middle">
<text x="1488" y="4002">112.8°E</text><text x="2077" y="4002">113.0°E</text><text x="2664" y="4002">113.2°E</text>
<text x="3324" y="4002">112.8°E</text><text x="3912" y="4002">113.0°E</text><text x="4502" y="4002">113.2°E</text>
<text x="5166" y="4002">112.8°E</text><text x="5756" y="4002">113.0°E</text><text x="6346" y="4002">113.2°E</text>
</g>

<!-- ================= COLORBAR ================= -->
<g>
<rect x="1189" y="4147.5" width="345.2" height="95.5" fill="#e6e6e6"/>
<rect x="1534.1" y="4147.5" width="345.2" height="95.5" fill="#0078f0"/>
<rect x="1879.3" y="4147.5" width="345.2" height="95.5" fill="#00b4ec"/>
<rect x="2224.4" y="4147.5" width="345.2" height="95.5" fill="#00ffff"/>
<rect x="2569.5" y="4147.5" width="345.2" height="95.5" fill="#00ff5a"/>
<rect x="2914.7" y="4147.5" width="345.2" height="95.5" fill="#00d600"/>
<rect x="3259.8" y="4147.5" width="345.2" height="95.5" fill="#008c00"/>
<rect x="3604.9" y="4147.5" width="345.2" height="95.5" fill="#ffff00"/>
<rect x="3950.1" y="4147.5" width="345.2" height="95.5" fill="#ffbe00"/>
<rect x="4295.2" y="4147.5" width="345.2" height="95.5" fill="#ff0000"/>
<rect x="4640.3" y="4147.5" width="345.2" height="95.5" fill="#cc0000"/>
<rect x="4985.5" y="4147.5" width="345.2" height="95.5" fill="#990000"/>
<rect x="5330.6" y="4147.5" width="345.2" height="95.5" fill="#ff00ff"/>
<rect x="5675.7" y="4147.5" width="345.2" height="95.5" fill="#d878d8"/>
<rect x="6020.9" y="4147.5" width="345.1" height="95.5" fill="#9600b4"/>
<rect x="1189" y="4147.5" width="5177" height="95.5" fill="none" stroke="#000" stroke-width="9"/>
<path stroke="#000" stroke-width="10" d="M1534.1 4243v35M2224.4 4243v35M2914.7 4243v35M3604.9 4243v35M4295.2 4243v35M4985.5 4243v35M5675.7 4243v35M6366 4243v35"/>
</g>

<g font-size="125" text-anchor="middle">
<text x="1027" y="4423"><tspan font-style="italic">Z</tspan><tspan font-size="85" font-weight="normal" dy="30">H</tspan><tspan dy="-30"> (dBZ)</tspan></text>
<text x="1027" y="4607"><tspan font-style="italic">Z</tspan><tspan font-size="85" font-weight="normal" dy="30">DR</tspan><tspan dy="-30"> (dB)</tspan></text>
<text x="1027" y="4790"><tspan font-style="italic">K</tspan><tspan font-size="85" font-weight="normal" dy="30">DP</tspan><tspan dy="-30"> (°/km)</tspan></text>

<text x="1534" y="4423">0</text><text x="1879" y="4423">5</text><text x="2224" y="4423">10</text><text x="2570" y="4423">15</text><text x="2915" y="4423">20</text><text x="3260" y="4423">25</text><text x="3605" y="4423">30</text><text x="3950" y="4423">35</text><text x="4295" y="4423">40</text><text x="4640" y="4423">45</text><text x="4986" y="4423">50</text><text x="5331" y="4423">55</text><text x="5676" y="4423">60</text><text x="6021" y="4423">65</text>

<text x="1534" y="4607">-2</text><text x="1879" y="4607">-1</text><text x="2224" y="4607">-0.5</text><text x="2570" y="4607">0</text><text x="2915" y="4607">0.5</text><text x="3260" y="4607">1</text><text x="3605" y="4607">1.5</text><text x="3950" y="4607">2</text><text x="4295" y="4607">2.5</text><text x="4640" y="4607">3</text><text x="4986" y="4607">4</text><text x="5331" y="4607">5</text><text x="5676" y="4607">6</text><text x="6021" y="4607">7</text>

<text x="1534" y="4790">-1</text><text x="1879" y="4790">-0.2</text><text x="2224" y="4790">0</text><text x="2570" y="4790">0.2</text><text x="2915" y="4790">0.5</text><text x="3260" y="4790">1</text><text x="3605" y="4790">1.5</text><text x="3950" y="4790">2</text><text x="4295" y="4790">2.5</text><text x="4640" y="4790">3</text><text x="4986" y="4790">4</text><text x="5331" y="4790">5</text><text x="5676" y="4790">6</text><text x="6021" y="4790">7</text>
</g>
</svg>
</body>
</html>
